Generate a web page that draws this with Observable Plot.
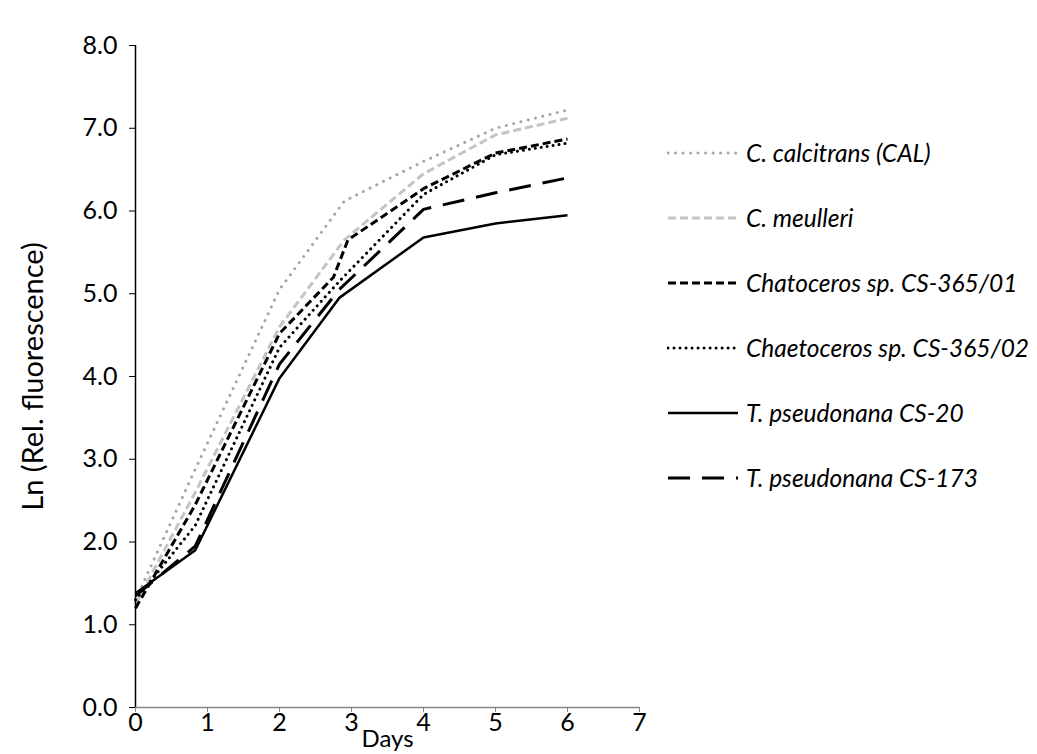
<!DOCTYPE html>
<html>
<head>
<meta charset="utf-8">
<script src="https://cdn.jsdelivr.net/npm/d3@7"></script>
<script src="https://cdn.jsdelivr.net/npm/@observablehq/plot@0.6"></script>
<style>
  html, body { margin: 0; padding: 0; background: #fff; }
  #wrap { position: relative; width: 1037px; height: 754px; font-family: Lato, "Open Sans", sans-serif; }
  #chart { position: absolute; left: 0; top: 0; }
  #legend { position: absolute; left: 667px; top: 120px; }
  .item { display: flex; align-items: center; height: 65px; font-size: 24.5px; font-style: italic; color: #000; white-space: nowrap; }
  .item svg { margin-right: 7px; }
</style>
</head>
<body>
<div id="wrap">
  <div id="chart"></div>
  <div id="legend"></div>
</div>
<script>
// Series names
const names = [
  "C. calcitrans (CAL)",
  "C. meulleri",
  "Chatoceros sp. CS-365/01",
  "Chaetoceros sp. CS-365/02",
  "T. pseudonana CS-20",
  "T. pseudonana CS-173"
];
// Time points (days) per series
const tCAL = [0, 0.83, 2, 2.9, 4, 5, 6];
const tMEU = [0, 0.83, 2, 2.9, 4, 5, 6];
const t01  = [0, 0.83, 2, 2.75, 2.95, 4, 5, 6];
const t02  = [0, 0.83, 2, 2.83, 4, 5, 6];
const t20  = [0, 0.83, 2, 2.83, 4, 5, 6];
const t173 = [0, 0.83, 2, 2.83, 4, 5, 6];
// Ln (Rel. fluorescence) values
const vCAL = [1.30, 2.88, 5.05, 6.12, 6.60, 7.00, 7.22];
const vMEU = [1.25, 2.60, 4.60, 5.65, 6.45, 6.92, 7.12];
const v01  = [1.20, 2.45, 4.52, 5.20, 5.65, 6.27, 6.70, 6.87];
const v02  = [1.30, 2.20, 4.35, 5.15, 6.20, 6.68, 6.82];
const v20  = [1.38, 1.90, 3.98, 4.95, 5.68, 5.85, 5.95];
const v173 = [1.35, 1.95, 4.15, 5.05, 6.02, 6.22, 6.40];
// Axis ticks
const xTicks = [0, 1, 2, 3, 4, 5, 6, 7];
const yTicks = [0, 1, 2, 3, 4, 5, 6, 7, 8];

const times = [tCAL, tMEU, t01, t02, t20, t173];
const vals = [vCAL, vMEU, v01, v02, v20, v173];
const styles = [
  {stroke: "#a6a6a6", strokeWidth: 3, strokeDasharray: "0.01 7.5", strokeLinecap: "round"},
  {stroke: "#c4c4c4", strokeWidth: 3, strokeDasharray: "8 4", strokeLinecap: "butt"},
  {stroke: "#000", strokeWidth: 3, strokeDasharray: "8 4", strokeLinecap: "butt"},
  {stroke: "#000", strokeWidth: 3, strokeDasharray: "0.01 6", strokeLinecap: "round"},
  {stroke: "#000", strokeWidth: 2.5, strokeDasharray: null, strokeLinecap: "butt"},
  {stroke: "#000", strokeWidth: 3, strokeDasharray: "22 12", strokeLinecap: "butt"}
];

const lineMarks = names.map((n, i) => {
  const data = times[i].map((t, j) => ({day: t, v: vals[i][j]}));
  const s = styles[i];
  const opts = {x: "day", y: "v", stroke: s.stroke, strokeWidth: s.strokeWidth, strokeLinecap: s.strokeLinecap, strokeLinejoin: "round"};
  if (s.strokeDasharray) opts.strokeDasharray = s.strokeDasharray;
  return Plot.line(data, opts);
});

const chart = Plot.plot({
  width: 660,
  height: 754,
  marginLeft: 135,
  marginRight: 21,
  marginTop: 45,
  marginBottom: 47,
  style: {fontFamily: "Lato, 'Open Sans', sans-serif", fontSize: "25px", color: "#000", background: "#fff", overflow: "visible"},
  x: {domain: [0, 7]},
  y: {domain: [0, 8]},
  marks: [
    Plot.axisX({ticks: xTicks, tickSize: 5, tickPadding: 1, fontSize: 25, tickFormat: d => String(d), label: null, stroke: "#868686"}),
    Plot.axisY({ticks: yTicks, tickSize: 6, tickPadding: 12, fontSize: 25, tickFormat: d3.format(".1f"), label: null, stroke: "#000"}),
    Plot.ruleY([0], {stroke: "#868686", strokeWidth: 1.5}),
    ...lineMarks,
    Plot.ruleX([0], {stroke: "#000", strokeWidth: 1.5}),
    Plot.text(["Days"], {frameAnchor: "bottom", lineAnchor: "middle", textAnchor: "middle", dy: 32, fontSize: 24}),
    Plot.text(["Ln (Rel. fluorescence)"], {frameAnchor: "left", lineAnchor: "middle", textAnchor: "middle", dx: -102, rotate: -90, fontSize: 29})
  ]
});
document.getElementById("chart").appendChild(chart);

// Legend (HTML beside the plot)
const legend = d3.select("#legend");
names.forEach((n, i) => {
  const s = styles[i];
  const row = legend.append("div").attr("class", "item");
  const sv = row.append("svg").attr("width", 72).attr("height", 10);
  const ln = sv.append("line").attr("x1", 1).attr("x2", 71).attr("y1", 5).attr("y2", 5)
    .attr("stroke", s.stroke).attr("stroke-width", s.strokeWidth).attr("stroke-linecap", s.strokeLinecap);
  if (s.strokeDasharray) ln.attr("stroke-dasharray", s.strokeDasharray);
  row.append("span").text(n);
});
</script>
</body>
</html>
